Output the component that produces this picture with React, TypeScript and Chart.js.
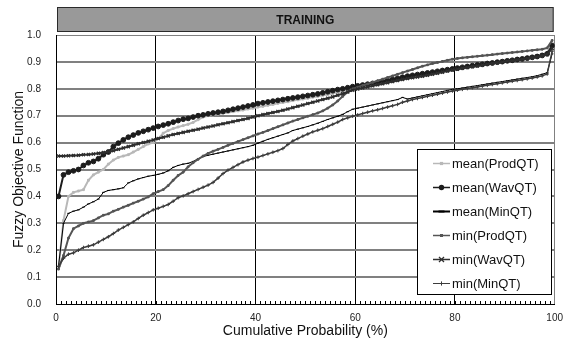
import React, { useEffect, useRef } from 'react';
import { Chart, registerables } from 'chart.js';

Chart.register(...registerables);

// Cumulative probability (%) of each sorted sample
const PROB = [
  0.5, 1.5, 2.5, 3.5, 4.5, 5.5, 6.5, 7.5, 8.5, 9.5,
  10.5, 11.5, 12.5, 13.5, 14.5, 15.5, 16.5, 17.5, 18.5, 19.5,
  20.5, 21.5, 22.5, 23.5, 24.5, 25.5, 26.5, 27.5, 28.5, 29.5,
  30.5, 31.5, 32.5, 33.5, 34.5, 35.5, 36.5, 37.5, 38.5, 39.5,
  40.5, 41.5, 42.5, 43.5, 44.5, 45.5, 46.5, 47.5, 48.5, 49.5,
  50.5, 51.5, 52.5, 53.5, 54.5, 55.5, 56.5, 57.5, 58.5, 59.5,
  60.5, 61.5, 62.5, 63.5, 64.5, 65.5, 66.5, 67.5, 68.5, 69.5,
  70.5, 71.5, 72.5, 73.5, 74.5, 75.5, 76.5, 77.5, 78.5, 79.5,
  80.5, 81.5, 82.5, 83.5, 84.5, 85.5, 86.5, 87.5, 88.5, 89.5,
  90.5, 91.5, 92.5, 93.5, 94.5, 95.5, 96.5, 97.5, 98.5, 99.5,
];

const MEAN_PRODQT = [
  0.13, 0.31, 0.40, 0.415, 0.42, 0.425, 0.46, 0.48, 0.49, 0.50,
  0.52, 0.535, 0.545, 0.55, 0.555, 0.565, 0.575, 0.585, 0.595, 0.60,
  0.615, 0.635, 0.645, 0.652, 0.658, 0.663, 0.668, 0.675, 0.685, 0.695,
  0.70, 0.703, 0.706, 0.709, 0.712, 0.715, 0.718, 0.721, 0.725, 0.728,
  0.732, 0.735, 0.739, 0.742, 0.746, 0.749, 0.752, 0.756, 0.759, 0.762,
  0.765, 0.769, 0.772, 0.776, 0.779, 0.783, 0.787, 0.791, 0.795, 0.799,
  0.802, 0.805, 0.808, 0.811, 0.814, 0.818, 0.822, 0.826, 0.83, 0.834,
  0.838, 0.842, 0.846, 0.85, 0.854, 0.858, 0.862, 0.866, 0.87, 0.874,
  0.877, 0.88, 0.883, 0.886, 0.889, 0.892, 0.895, 0.898, 0.901, 0.904,
  0.907, 0.91, 0.912, 0.915, 0.918, 0.921, 0.924, 0.928, 0.934, 0.97,
];

const MEAN_WAVQT = [
  0.40, 0.48, 0.49, 0.495, 0.50, 0.515, 0.525, 0.53, 0.54, 0.555,
  0.565, 0.585, 0.598, 0.61, 0.62, 0.628, 0.636, 0.642, 0.648, 0.654,
  0.66, 0.665, 0.67, 0.676, 0.682, 0.687, 0.69, 0.695, 0.70, 0.703,
  0.707, 0.71, 0.713, 0.716, 0.72, 0.724, 0.728, 0.732, 0.736, 0.74,
  0.745, 0.748, 0.751, 0.754, 0.757, 0.76, 0.763, 0.766, 0.769, 0.772,
  0.775, 0.778, 0.781, 0.785, 0.789, 0.793, 0.797, 0.80, 0.804, 0.808,
  0.811, 0.814, 0.817, 0.82, 0.823, 0.827, 0.831, 0.835, 0.839, 0.843,
  0.847, 0.85, 0.853, 0.856, 0.859, 0.862, 0.865, 0.868, 0.871, 0.874,
  0.877, 0.88, 0.883, 0.886, 0.889, 0.891, 0.894, 0.896, 0.899, 0.901,
  0.904, 0.906, 0.909, 0.911, 0.914, 0.917, 0.92, 0.924, 0.93, 0.96,
];

const MEAN_MINQT = [
  0.14, 0.30, 0.337, 0.345, 0.35, 0.36, 0.372, 0.38, 0.39, 0.415,
  0.422, 0.425, 0.428, 0.432, 0.45, 0.458, 0.465, 0.47, 0.475, 0.478,
  0.482, 0.487, 0.495, 0.508, 0.515, 0.52, 0.523, 0.53, 0.54, 0.548,
  0.553, 0.557, 0.561, 0.565, 0.569, 0.573, 0.577, 0.581, 0.585, 0.59,
  0.598, 0.605, 0.612, 0.618, 0.624, 0.63, 0.636, 0.645, 0.65, 0.655,
  0.66, 0.666, 0.672, 0.679, 0.686, 0.692, 0.698, 0.705, 0.715, 0.724,
  0.728, 0.732, 0.736, 0.74, 0.744, 0.748, 0.752, 0.756, 0.76, 0.768,
  0.762, 0.766, 0.77, 0.774, 0.778, 0.782, 0.786, 0.79, 0.794, 0.798,
  0.80, 0.803, 0.806, 0.809, 0.812, 0.815, 0.818, 0.821, 0.824, 0.827,
  0.83, 0.833, 0.836, 0.839, 0.842, 0.845, 0.849, 0.854, 0.86, 0.93,
];

const MIN_PRODQT = [
  0.13, 0.18, 0.245, 0.28, 0.29, 0.30, 0.305, 0.31, 0.32, 0.33,
  0.335, 0.345, 0.352, 0.36, 0.367, 0.375, 0.382, 0.39, 0.398, 0.41,
  0.418, 0.425, 0.44, 0.46, 0.478, 0.49, 0.51, 0.525, 0.538, 0.55,
  0.56, 0.568, 0.575, 0.582, 0.59, 0.597, 0.604, 0.611, 0.618, 0.625,
  0.632, 0.638, 0.645, 0.652, 0.659, 0.666, 0.673, 0.68, 0.686, 0.692,
  0.698, 0.704, 0.71, 0.718, 0.728, 0.74, 0.755, 0.772, 0.788, 0.80,
  0.806, 0.812, 0.818, 0.824, 0.83, 0.836, 0.842, 0.848, 0.854, 0.86,
  0.866, 0.872, 0.878, 0.884, 0.889, 0.894, 0.898, 0.902, 0.906, 0.91,
  0.913, 0.915, 0.917, 0.919, 0.921, 0.923, 0.925, 0.927, 0.929, 0.931,
  0.933, 0.935, 0.937, 0.939, 0.941, 0.943, 0.945, 0.947, 0.952, 0.98,
];

const MIN_WAVQT = [
  0.55, 0.55, 0.551, 0.552, 0.553, 0.555, 0.556, 0.558, 0.56, 0.563,
  0.566, 0.57, 0.575, 0.58, 0.585, 0.59, 0.596, 0.60, 0.605, 0.61,
  0.615, 0.62, 0.625, 0.63, 0.634, 0.638, 0.642, 0.646, 0.65, 0.654,
  0.658, 0.662, 0.666, 0.67, 0.674, 0.678, 0.682, 0.686, 0.69, 0.695,
  0.70, 0.704, 0.708, 0.712, 0.716, 0.72, 0.725, 0.73, 0.735, 0.74,
  0.745, 0.75, 0.755, 0.76, 0.765, 0.77, 0.776, 0.782, 0.788, 0.795,
  0.799, 0.803, 0.807, 0.811, 0.815, 0.819, 0.823, 0.827, 0.831, 0.835,
  0.838, 0.841, 0.844, 0.847, 0.85, 0.854, 0.858, 0.862, 0.866, 0.87,
  0.873, 0.876, 0.879, 0.882, 0.885, 0.888, 0.891, 0.894, 0.897, 0.90,
  0.903, 0.905, 0.908, 0.91, 0.913, 0.916, 0.919, 0.923, 0.928, 0.95,
];

const MIN_MINQT = [
  0.14, 0.17, 0.185, 0.19, 0.2, 0.21, 0.215, 0.22, 0.23, 0.24,
  0.25, 0.262, 0.275, 0.285, 0.295, 0.305, 0.318, 0.33, 0.34, 0.35,
  0.356, 0.363, 0.37, 0.382, 0.395, 0.402, 0.41, 0.418, 0.426, 0.434,
  0.442, 0.452, 0.468, 0.485, 0.498, 0.508, 0.518, 0.528, 0.535, 0.541,
  0.546, 0.552, 0.558, 0.564, 0.57, 0.578, 0.593, 0.606, 0.615, 0.624,
  0.632, 0.64, 0.646, 0.652, 0.66, 0.668, 0.676, 0.686, 0.692, 0.698,
  0.703, 0.708, 0.713, 0.718, 0.722, 0.727, 0.732, 0.737, 0.742, 0.75,
  0.755, 0.76, 0.764, 0.768, 0.772, 0.776, 0.78, 0.784, 0.788, 0.792,
  0.795, 0.798, 0.801, 0.804, 0.807, 0.81, 0.813, 0.816, 0.819, 0.822,
  0.825, 0.828, 0.831, 0.834, 0.837, 0.84, 0.844, 0.848, 0.855, 0.94,
];

const SERIES_LABELS = [
  'mean(ProdQT)',
  'mean(WavQT)',
  'mean(MinQT)',
  'min(ProdQT)',
  'min(WavQT)',
  'min(MinQT)',
];

const CHART_TITLE = 'TRAINING';
const X_TITLE = 'Cumulative Probability (%)';
const Y_TITLE = 'Fuzzy Objective Function';

const FONT = "'Liberation Sans', Arial, Helvetica, sans-serif";

type Style = {
  color: string;
  width: number;
  point: string;
  radius: number;
  pointWidth: number;
};

const STYLES: Style[] = [
  { color: '#b8b8b8', width: 2, point: 'rect', radius: 1.3, pointWidth: 1 },
  { color: '#1c1c1c', width: 2, point: 'circle', radius: 2.4, pointWidth: 1 },
  { color: '#000000', width: 1, point: 'line', radius: 1.2, pointWidth: 1 },
  { color: '#555555', width: 2, point: 'rect', radius: 1.2, pointWidth: 1 },
  { color: '#2e2e2e', width: 2, point: 'crossRot', radius: 2.2, pointWidth: 1.3 },
  { color: '#3c3c3c', width: 1.5, point: 'cross', radius: 1.8, pointWidth: 1 },
];

function drawMarker(ctx: CanvasRenderingContext2D, s: Style, x: number, y: number) {
  const r = s.radius + 0.3;
  ctx.save();
  ctx.fillStyle = s.color;
  ctx.strokeStyle = s.color;
  ctx.lineWidth = s.pointWidth;
  ctx.beginPath();
  if (s.point === 'circle') {
    ctx.arc(x, y, r, 0, Math.PI * 2);
    ctx.fill();
  } else if (s.point === 'rect') {
    ctx.fillRect(x - r, y - r, 2 * r, 2 * r);
  } else if (s.point === 'crossRot') {
    ctx.moveTo(x - r, y - r); ctx.lineTo(x + r, y + r);
    ctx.moveTo(x + r, y - r); ctx.lineTo(x - r, y + r);
    ctx.stroke();
  } else if (s.point === 'cross') {
    ctx.moveTo(x - r, y); ctx.lineTo(x + r, y);
    ctx.moveTo(x, y - r); ctx.lineTo(x, y + r);
    ctx.stroke();
  } else if (s.point === 'line') {
    ctx.lineWidth = 2;
    ctx.moveTo(x - 3, y); ctx.lineTo(x + 3, y);
    ctx.stroke();
  }
  ctx.restore();
}

const decorPlugin = {
  id: 'decor',
  afterDraw(chart: any) {
    const ctx: CanvasRenderingContext2D = chart.ctx;
    const a = chart.chartArea;
    const xs = chart.scales.x;
    ctx.save();
    // minor tick marks along the bottom axis, pointing inside
    ctx.strokeStyle = '#000';
    ctx.lineWidth = 1;
    ctx.beginPath();
    for (let v = 1; v < 100; v++) {
      const px = Math.round(xs.getPixelForValue(v)) + 0.5;
      ctx.moveTo(px, a.bottom);
      ctx.lineTo(px, a.bottom - 3);
    }
    ctx.stroke();

    // title bar
    const bx = a.left + 1;
    const bw = a.right - a.left - 2;
    ctx.fillStyle = '#999999';
    ctx.fillRect(bx, 7, bw, 25);
    ctx.strokeStyle = '#2a2a2a';
    ctx.lineWidth = 1;
    ctx.strokeRect(bx + 0.5, 7.5, bw - 1, 24);
    ctx.fillStyle = '#111';
    ctx.font = `bold 12px ${FONT}`;
    ctx.textAlign = 'center';
    ctx.textBaseline = 'middle';
    ctx.fillText(CHART_TITLE, (a.left + a.right) / 2, 20.5);

    // legend box
    const lx = 417, ly = 149, lw = 135, lh = 146;
    ctx.fillStyle = '#ffffff';
    ctx.fillRect(lx, ly, lw, lh);
    ctx.strokeStyle = '#000';
    ctx.strokeRect(lx + 0.5, ly + 0.5, lw - 1, lh - 1);
    ctx.font = `13px ${FONT}`;
    ctx.textAlign = 'left';
    ctx.textBaseline = 'middle';
    SERIES_LABELS.forEach((label, i) => {
      const s = STYLES[i];
      const y = ly + 14.5 + i * 24;
      ctx.strokeStyle = s.color;
      ctx.lineWidth = s.point === 'line' ? 2 : Math.max(1, s.width - 0.5);
      ctx.beginPath();
      ctx.moveTo(lx + 16, y);
      ctx.lineTo(lx + 33, y);
      ctx.stroke();
      drawMarker(ctx, s, lx + 24.5, y);
      ctx.fillStyle = '#111';
      ctx.fillText(label, lx + 35, y + 0.5);
    });
    ctx.restore();
  },
};

export default function App() {
  const ref = useRef<HTMLCanvasElement | null>(null);

  useEffect(() => {
    if (!ref.current) return;
    const series = [MEAN_PRODQT, MEAN_WAVQT, MEAN_MINQT, MIN_PRODQT, MIN_WAVQT, MIN_MINQT];
    const datasets = series.map((vals, i) => {
      const s = STYLES[i];
      return {
        label: SERIES_LABELS[i],
        data: vals.map((v, k) => ({ x: PROB[k], y: v })),
        borderColor: s.color,
        backgroundColor: s.color,
        borderWidth: s.width,
        pointStyle: s.point,
        pointRadius: s.radius,
        pointBorderWidth: s.pointWidth,
        pointBorderColor: s.color,
        pointBackgroundColor: s.color,
        tension: 0,
        fill: false,
        order: 6 - i,
      };
    });

    const chart = new Chart(ref.current, {
      type: 'line',
      data: { datasets },
      plugins: [decorPlugin],
      options: {
        animation: false,
        responsive: false,
        devicePixelRatio: 1,
        layout: { padding: { left: 0, right: 14, top: 35, bottom: 0 } },
        plugins: {
          legend: { display: false },
          title: { display: false },
          tooltip: { enabled: false },
        },
        scales: {
          x: {
            type: 'linear',
            min: 0,
            max: 100,
            afterFit: (scale: any) => { scale.height = 40; },
            ticks: {
              stepSize: 20,
              padding: 8,
              color: '#222',
              font: { family: FONT, size: 10 },
              callback: (v: any) => String(v),
              maxRotation: 0,
            },
            grid: {
              drawTicks: false,
              color: (c: any) => (c.tick && c.tick.value === 100 ? '#808080' : '#000000'),
              lineWidth: 1,
            },
            border: { display: true, color: '#000', width: 1 },
            title: {
              display: true,
              text: X_TITLE,
              color: '#111',
              font: { family: FONT, size: 14 },
              padding: { top: 0, bottom: 4 },
            },
          },
          y: {
            type: 'linear',
            min: 0,
            max: 1,
            afterFit: (scale: any) => { scale.width = 56; },
            ticks: {
              stepSize: 0.1,
              padding: 15,
              color: '#222',
              font: { family: FONT, size: 10 },
              callback: (v: any) => Number(v).toFixed(1),
            },
            grid: {
              drawTicks: false,
              color: (c: any) => {
                const v = c.tick ? c.tick.value : 0;
                if (v <= 0.0001) return '#000000';
                return '#808080';
              },
              lineWidth: (c: any) => {
                const v = c.tick ? c.tick.value : 0;
                if (v <= 0.0001 || v >= 0.9999) return 1;
                return 2;
              },
            },
            border: { display: true, color: '#000', width: 1 },
            title: {
              display: true,
              text: Y_TITLE,
              color: '#111',
              font: { family: FONT, size: 14 },
              padding: { top: 11, bottom: 0 },
            },
          },
        },
      } as any,
    });
    return () => chart.destroy();
  }, []);

  return (
    <div style={{ position: 'fixed', left: 0, top: 0, width: 571, height: 344, background: '#fff' }}>
      <canvas ref={ref} width={571} height={344} style={{ width: 571, height: 344, display: 'block' }} />
    </div>
  );
}
